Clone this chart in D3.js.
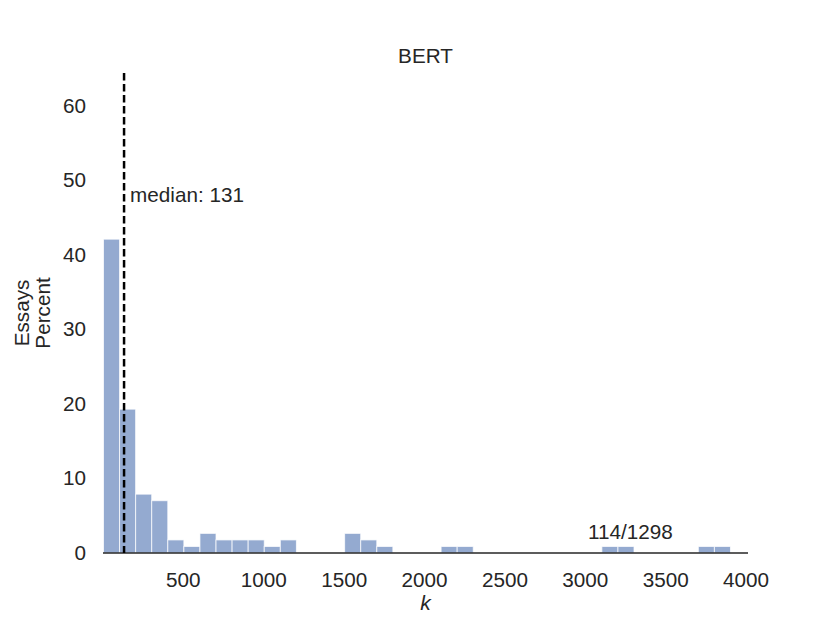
<!DOCTYPE html>
<html>
<head>
<meta charset="utf-8">
<script src="https://cdn.jsdelivr.net/npm/d3@7"></script>
<style>
  body { margin: 0; background: #fff; }
  text { font-family: "Liberation Sans", Arial, sans-serif; fill: #262626; }
</style>
</head>
<body>
<div id="chart"></div>
<script>
const width = 830;
const height = 623;

// Histogram bins (start of bin in k, width ~100) and essay counts per bin
const binStart = 3;
const binWidth = 100;
const counts = [48, 22, 9, 8, 2, 1, 3, 2, 2, 2, 1, 2, 0, 0, 0, 3, 2, 1, 0, 0,
                0, 1, 1, 0, 0, 0, 0, 0, 0, 0, 0, 1, 1, 0, 0, 0, 0, 1, 1];
const totalEssays = 114;
const totalAll = 1298;
const median = 131;
const xTicks = [500, 1000, 1500, 2000, 2500, 3000, 3500, 4000];
const yTicks = [0, 10, 20, 30, 40, 50, 60];

const margin = { top: 73, right: 82, bottom: 70, left: 103 };
const fontSize = "20.7px";

const svg = d3.select("#chart").append("svg")
    .attr("width", width)
    .attr("height", height);

const x = d3.scaleLinear()
    .domain([0, 4012])
    .range([margin.left, width - margin.right]);

const y = d3.scaleLinear()
    .domain([0, 64.4])
    .range([height - margin.bottom, margin.top]);

const bins = counts.map((c, i) => ({
    x0: binStart + i * binWidth,
    x1: binStart + (i + 1) * binWidth,
    pct: c / totalEssays * 100
})).filter(d => d.pct > 0);

// bars
svg.append("g")
    .selectAll("rect")
    .data(bins)
    .join("rect")
    .attr("x", d => x(d.x0))
    .attr("y", d => y(d.pct))
    .attr("width", d => x(d.x1) - x(d.x0))
    .attr("height", d => y(0) - y(d.pct))
    .attr("fill", "#4c72b0")
    .attr("fill-opacity", 0.6)
    .attr("stroke", "#ffffff")
    .attr("stroke-opacity", 0.75)
    .attr("stroke-width", 1);

// bottom spine
svg.append("line")
    .attr("x1", x.range()[0])
    .attr("x2", x.range()[1])
    .attr("y1", y(0))
    .attr("y2", y(0))
    .attr("stroke", "#262626")
    .attr("stroke-width", 1.6);

// x tick labels
svg.append("g")
    .selectAll("text")
    .data(xTicks)
    .join("text")
    .attr("x", d => x(d))
    .attr("y", y(0) + 34)
    .attr("text-anchor", "middle")
    .style("font-size", fontSize)
    .text(d => d);

// y tick labels
svg.append("g")
    .selectAll("text")
    .data(yTicks)
    .join("text")
    .attr("x", 86)
    .attr("y", d => y(d) + 7)
    .attr("text-anchor", "end")
    .style("font-size", fontSize)
    .text(d => d);

// median line
svg.append("line")
    .attr("x1", x(median))
    .attr("x2", x(median))
    .attr("y1", y.range()[1])
    .attr("y2", y(0))
    .attr("stroke", "#000")
    .attr("stroke-width", 2.5)
    .attr("stroke-dasharray", "7.5,3.5");

svg.append("text")
    .attr("x", x(median) + 6)
    .attr("y", 202)
    .style("font-size", fontSize)
    .text(`median: ${median}`);

// count annotation
svg.append("text")
    .attr("x", x(3280))
    .attr("y", 539)
    .attr("text-anchor", "middle")
    .style("font-size", fontSize)
    .text(`${totalEssays}/${totalAll}`);

// title
svg.append("text")
    .attr("x", (x.range()[0] + x.range()[1]) / 2)
    .attr("y", 63)
    .attr("text-anchor", "middle")
    .style("font-size", fontSize)
    .text("BERT");

// x label
svg.append("text")
    .attr("x", (x.range()[0] + x.range()[1]) / 2)
    .attr("y", 610)
    .attr("text-anchor", "middle")
    .style("font-size", "21px")
    .style("font-style", "italic")
    .text("k");

// y label (two lines)
const yMid = (y.range()[0] + y.range()[1]) / 2;
const ylab = svg.append("text")
    .attr("transform", `translate(29,${yMid}) rotate(-90)`)
    .attr("text-anchor", "middle")
    .style("font-size", fontSize);
ylab.append("tspan").attr("x", 0).attr("dy", 0).text("Essays");
ylab.append("tspan").attr("x", 0).attr("dy", 21).text("Percent");
</script>
</body>
</html>
